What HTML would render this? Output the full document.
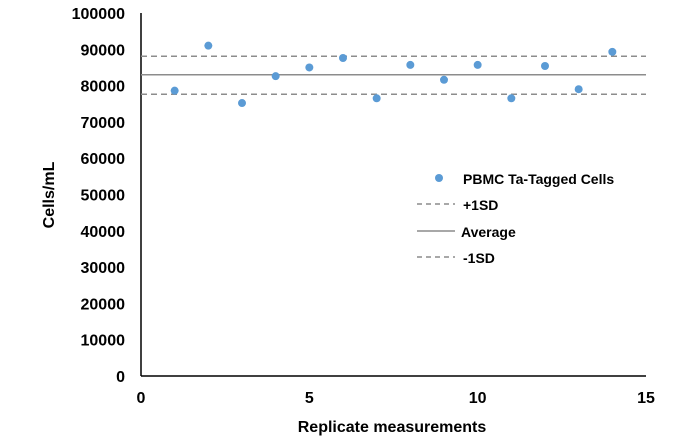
<!DOCTYPE html>
<html><head><meta charset="utf-8"><style>
body{margin:0;background:#fff}
svg{display:block;font-family:"Liberation Sans",Arial,sans-serif;font-weight:bold}
</style></head><body>
<svg id="chart" width="700" height="441">
<g id="ax"></g><g id="marks"></g>
</svg>
<script>
const xTicks=[0,5,10,15];
const yTicks=[0,10000,20000,30000,40000,50000,60000,70000,80000,90000,100000];
const replicates=[1,2,3,4,5,6,7,8,9,10,11,12,13,14];
const cells=[78600,91000,75200,82600,85000,87600,76500,85700,81600,85700,76500,85400,79000,89300];
const plusSD=88100, average=83000, minusSD=77600;
const NS="http://www.w3.org/2000/svg";
const X0=141,X1=646,Y0=376,Y1=13;
const sx=v=>X0+(v-0)/15*(X1-X0);
const sy=v=>Y0-(v/100000)*(Y0-Y1);
const svg=document.getElementById('chart');
function mk(tag,attrs,parent,text){const e=document.createElementNS(NS,tag);for(const k in attrs)e.setAttribute(k,attrs[k]);if(text!==undefined)e.textContent=text;(parent||svg).appendChild(e);return e;}
const ax=document.getElementById('ax'), marks=document.getElementById('marks');
let e;
e=mk('line',{x1:X0,y1:Y1,x2:X0,y2:Y0,stroke:'#000','stroke-width':1.5},ax);


e=mk('line',{x1:X0,y1:Y0,x2:X1,y2:Y0,stroke:'#000','stroke-width':1.5},ax);


yTicks.forEach(t=>{e=mk('text',{x:125,y:sy(t)+6,'text-anchor':'end','font-size':16},ax,String(t));

});
xTicks.forEach(t=>{e=mk('text',{x:sx(t),y:403,'text-anchor':'middle','font-size':16},ax,String(t));

});
e=mk('text',{x:392,y:432,'text-anchor':'middle','font-size':16},ax,'Replicate measurements');


e=mk('text',{x:0,y:0,'text-anchor':'middle','font-size':16,transform:'translate(54,195) rotate(-90)'},ax,'Cells/mL');


function hline(v,dash,name){const l=mk('line',{x1:X0,x2:X1,y1:sy(v),y2:sy(v),stroke:'#8c8c8c','stroke-width':1.5},marks);if(dash)l.setAttribute('stroke-dasharray','6,4');return l;}
e=hline(plusSD,true);


e=hline(average,false);


e=hline(minusSD,true);


replicates.forEach((r,i)=>{e=mk('circle',{cx:sx(r),cy:sy(cells[i]),r:4,fill:'#5b9bd5'},marks);

});
// legend
const lg=mk('g',{},svg);


e=mk('circle',{cx:439,cy:178,r:4,fill:'#5b9bd5'},lg);


e=mk('text',{x:463,y:184,'font-size':14},lg,'PBMC Ta-Tagged Cells');


[[204,true,'+1SD','plus-1sd'],[231,false,'Average','average'],[257,true,'-1SD','minus-1sd']].forEach(([y,d,t,n])=>{
 const l=mk('line',{x1:417,x2:455,y1:y,y2:y,stroke:'#8c8c8c','stroke-width':1.5},lg);if(d)l.setAttribute('stroke-dasharray','5,4');
 
 
 e=mk('text',{x:t==='Average'?461:463,y:y+6,'font-size':14},lg,t);
 
 
});
</script>
</body></html>
